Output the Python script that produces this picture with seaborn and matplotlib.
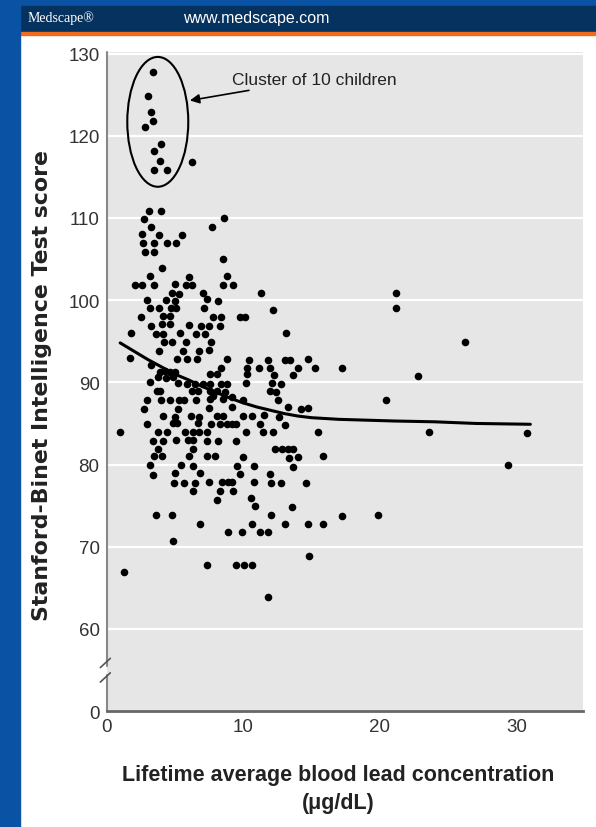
import numpy as np
import pandas as pd
import seaborn as sns
import matplotlib.pyplot as plt
from matplotlib.patches import Ellipse, Rectangle

# blood lead (ug/dL) vs Stanford-Binet score
lead = [
    3.42, 3.01, 3.26, 3.38, 2.79, 3.96, 3.50, 3.91, 3.47, 4.45, 6.23,
    3.13, 3.96, 2.77, 3.23, 7.70, 8.60, 2.60, 3.84, 5.50, 2.69, 3.50, 4.45, 5.11,
    2.79, 3.50, 8.50, 4.06, 3.18, 6.01, 2.11, 2.62, 3.50, 5.01, 5.82, 6.25, 8.84,
    8.54, 4.81, 5.33, 7.04, 2.94, 4.35, 5.03, 7.33, 8.18, 3.16, 3.84, 4.72, 5.08,
    7.15, 2.52, 4.16, 4.65, 7.81, 8.35, 3.28, 4.08, 4.67, 6.06, 6.91, 7.48, 8.30,
    1.81, 3.60, 4.16, 5.38, 6.55, 7.18, 7.62, 4.21, 4.77, 5.82, 3.84, 5.57, 6.79,
    7.52, 1.70, 5.14, 5.87, 6.60, 8.84, 3.23, 8.38, 7.57, 8.06, 3.91, 4.28, 4.65,
    5.01, 3.75, 4.35, 4.90,
    3.16, 5.21, 5.91, 6.47, 7.04, 7.57, 8.38, 8.79, 3.67, 3.91, 6.23, 6.67, 7.57,
    8.11, 8.67, 2.98, 3.99, 4.65, 5.30, 5.67, 6.53, 7.57, 7.81, 8.54, 2.77, 5.21,
    7.52, 4.16, 6.16, 6.79, 8.11, 8.54, 5.03, 4.89, 5.14, 6.67, 7.64, 8.30, 8.79,
    2.94, 1.01, 3.75, 4.45, 5.74, 6.31, 6.79, 7.37, 3.42, 4.16, 5.08, 5.94, 6.35,
    7.33, 8.18, 3.79, 6.31, 3.50, 4.08, 6.04, 7.37, 7.94, 3.18, 5.43, 6.35, 3.42,
    5.01, 6.84, 4.96, 5.67, 6.47, 7.52, 8.43, 8.91, 6.35, 8.30, 8.11, 3.60, 4.81,
    6.84, 8.91, 4.89,
    9.28, 11.30, 12.16, 9.77, 10.13, 13.11, 10.45, 10.30, 10.30, 11.18, 11.79,
    11.96, 12.25, 13.06, 13.42, 14.03, 13.62, 14.74, 15.23, 17.21,
    10.18, 12.08, 12.74, 11.96, 12.40, 12.52, 9.16, 10.01, 9.16, 13.30, 14.21,
    14.76, 9.96, 10.62, 11.54, 12.62, 9.16, 9.47, 11.23, 13.06, 10.18, 11.47,
    12.16, 15.45, 9.45, 12.33, 12.82, 13.26, 13.67, 10.01, 13.35, 13.99, 15.86,
    9.57, 10.79, 13.67, 9.77, 11.96, 9.16, 10.79, 12.01, 12.74, 14.59, 9.28,
    10.55, 10.86, 13.55, 12.03, 17.21, 10.62, 13.06, 14.72, 15.82, 9.89, 11.23,
    11.84, 14.84,
    1.28, 7.37, 9.45, 10.06, 10.62, 11.84,
    21.18, 21.18, 26.20, 22.81, 20.45, 23.57, 30.78, 29.39, 19.84,
]
iq = [
    127.8, 124.9, 122.9, 121.8, 121.1, 119.0, 118.1, 116.9, 115.9, 115.9, 116.8,
    110.8, 110.9, 109.9, 108.9, 108.9, 110.0, 108.0, 107.9, 107.9, 106.9, 106.9, 106.9, 106.9,
    105.9, 105.9, 105.0, 103.9, 102.9, 102.8, 101.9, 101.9, 101.9, 102.0, 101.8, 101.8, 102.9,
    101.9, 100.9, 100.7, 100.9, 100.0, 100.0, 99.9, 100.1, 99.9, 99.0, 99.0, 99.0, 99.0,
    99.1, 98.0, 98.1, 98.1, 98.0, 98.0, 96.9, 97.1, 97.1, 97.0, 96.9, 96.9, 96.9,
    96.0, 95.9, 95.9, 96.0, 95.9, 95.9, 94.9, 94.9, 94.9, 94.9, 93.8, 93.8, 93.8,
    93.9, 93.0, 92.8, 92.8, 92.8, 92.8, 92.1, 91.8, 91.0, 91.0, 91.3, 91.4, 91.3,
    91.3, 90.6, 90.5, 90.6,
    90.0, 89.9, 89.8, 89.8, 89.8, 89.8, 89.8, 89.8, 88.9, 89.0, 89.0, 88.9, 88.9,
    89.0, 88.8, 87.8, 87.8, 87.8, 87.8, 87.8, 87.8, 88.0, 88.4, 88.0, 86.8, 86.8,
    86.9, 85.9, 85.9, 85.8, 85.9, 85.9, 85.8, 85.0, 85.0, 85.0, 84.9, 84.9, 84.9,
    84.9, 83.9, 83.9, 83.9, 83.9, 83.9, 83.9, 83.9, 82.9, 82.9, 83.0, 83.0, 83.0,
    82.9, 82.9, 81.9, 81.9, 81.0, 81.0, 81.0, 81.0, 81.0, 79.9, 80.0, 79.8, 78.7,
    79.0, 79.0, 77.8, 77.8, 77.8, 77.9, 77.9, 77.9, 76.8, 76.8, 75.7, 73.9, 73.9,
    72.8, 71.8, 70.7,
    101.9, 100.9, 98.8, 97.9, 97.9, 96.0, 92.7, 91.8, 91.0, 91.8, 92.7,
    91.8, 90.9, 92.7, 92.7, 91.8, 90.9, 92.8, 91.8, 91.8,
    89.9, 89.9, 89.8, 88.9, 88.8, 87.8, 88.2, 87.9, 87.0, 87.0, 86.8,
    86.9, 85.9, 85.9, 86.0, 85.8, 84.9, 84.9, 84.9, 84.8, 83.9, 83.9,
    83.9, 83.9, 82.9, 81.9, 81.9, 81.9, 81.9, 80.9, 80.8, 80.9, 81.0,
    79.8, 79.8, 79.7, 78.8, 78.9, 77.9, 77.9, 77.8, 77.8, 77.8, 76.8,
    75.9, 75.0, 74.8, 73.8, 73.7, 72.8, 72.8, 72.8, 72.8, 71.8, 71.8,
    71.8, 68.9,
    66.9, 67.8, 67.8, 67.8, 67.8, 63.9,
    100.9, 99.0, 94.9, 90.8, 87.8, 83.9, 83.8, 79.9, 73.8,
]

# smoothed fit line
fit_lead = [1, 2, 3, 4, 5, 6, 7, 8, 9, 10, 11, 12, 13, 14, 15, 17, 19, 21, 24, 27, 31]
fit_iq = [94.8, 93.8, 92.8, 91.9, 91.0, 90.3, 89.5, 88.8, 88.1, 87.5, 87.0, 86.6,
          86.2, 85.9, 85.7, 85.5, 85.4, 85.3, 85.2, 85.0, 84.9]

ytick_pos = [50, 60, 70, 80, 90, 100, 110, 120, 130]
ytick_lab = ["0", "60", "70", "80", "90", "100", "110", "120", "130"]
xticks = [0, 10, 20, 30]

df = pd.DataFrame({"lead": lead, "iq": iq})
fit = pd.DataFrame({"lead": fit_lead, "iq": fit_iq})

sns.set_style("darkgrid", {"axes.facecolor": "#e6e6e6", "grid.color": "white"})
plt.rcParams["font.family"] = ["Liberation Sans", "DejaVu Sans"]

fig = plt.figure(figsize=(5.96, 8.28), dpi=100)
fig.patch.set_facecolor("white")
ax = fig.add_axes([0.1787, 0.140, 0.799, 0.796])

sns.scatterplot(data=df, x="lead", y="iq", ax=ax, color="black", s=30,
                linewidth=0, zorder=3)
sns.lineplot(data=fit, x="lead", y="iq", ax=ax, color="black", lw=2.2, zorder=4)

ax.set_xlim(0, 34.83)
ax.set_ylim(50, 130.2)
ax.set_xticks(xticks)
ax.set_yticks(ytick_pos)
ax.set_yticklabels(ytick_lab)
ax.grid(axis="x", visible=False)
ax.grid(axis="y", color="white", lw=1.6)
ax.tick_params(length=0, labelsize=13.5, colors="#333333", pad=5)
ax.set_xlabel("")
ax.set_ylabel("")

for s in ["top", "right", "left"]:
    ax.spines[s].set_visible(False)
ax.spines["bottom"].set_visible(True)
ax.spines["bottom"].set_color("#666666")
ax.spines["bottom"].set_linewidth(2)

# left spine with axis break
ax.plot([0, 0], [0, 0.055], transform=ax.transAxes, color="#888888", lw=1.5, clip_on=False)
ax.plot([0, 0], [0.069, 1], transform=ax.transAxes, color="#888888", lw=1.5, clip_on=False)
ax.plot([-0.013, 0.008], [0.044, 0.058], transform=ax.transAxes, color="#555555", lw=1.2, clip_on=False)
ax.plot([-0.013, 0.008], [0.066, 0.080], transform=ax.transAxes, color="#555555", lw=1.2, clip_on=False)

# circled cluster + annotation
ax.add_patch(Ellipse((3.75, 121.7), 4.46, 15.8, fill=False, ec="black", lw=1.5, zorder=5))
ax.annotate("Cluster of 10 children", xy=(6.1, 124.3), xytext=(9.2, 126.9),
            fontsize=12.5, color="#222222", va="center", ha="left",
            arrowprops=dict(arrowstyle="-|>", color="black", lw=1.2,
                            mutation_scale=14, shrinkA=2, shrinkB=0))

fig.text(0.070, 0.535, "Stanford-Binet Intelligence Test score", rotation=90,
         ha="center", va="center", fontsize=15.8, fontweight="bold", color="#222222",
         family=["DejaVu Sans"])
fig.text(0.567, 0.064, "Lifetime average blood lead concentration", ha="center",
         va="center", fontsize=15.5, fontweight="bold", color="#222222")
fig.text(0.567, 0.030, "(\u03bcg/dL)", ha="center", va="center", fontsize=15.5,
         fontweight="bold", color="#222222")

# Medscape frame
fig.add_artist(Rectangle((0, 0.9915), 1, 0.0085, transform=fig.transFigure, color="#0a52a3"))
fig.add_artist(Rectangle((0, 0.9601), 1, 0.0314, transform=fig.transFigure, color="#05325f"))
fig.add_artist(Rectangle((0, 0.9565), 1, 0.0036, transform=fig.transFigure, color="#f26b1d"))
fig.add_artist(Rectangle((0, 0), 0.0336, 1, transform=fig.transFigure, color="#0a52a3"))
fig.text(0.047, 0.978, "Medscape\u00ae", ha="left", va="center", fontsize=10,
         color="white", family=["Liberation Serif", "DejaVu Serif"])
fig.text(0.307, 0.978, "www.medscape.com", ha="left", va="center", fontsize=11.5,
         color="white", family=["Liberation Sans", "DejaVu Sans"])

fig.savefig("out.png", dpi=100)
